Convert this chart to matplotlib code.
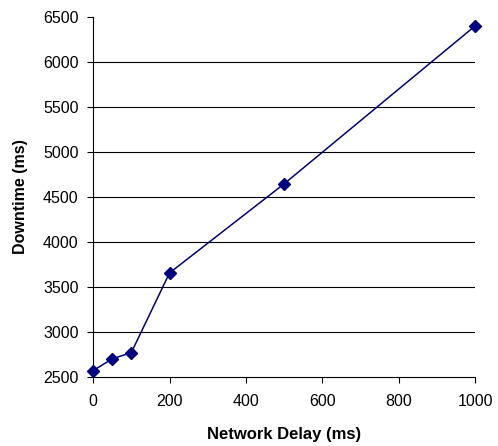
import matplotlib
matplotlib.use("Agg")
import matplotlib.pyplot as plt

# Network delay vs downtime
delay = [0, 50, 100, 200, 500, 1000]
downtime = [2570, 2700, 2770, 3655, 4645, 6400]
yticks = [2500, 3000, 3500, 4000, 4500, 5000, 5500, 6000, 6500]
xticks = [0, 200, 400, 600, 800, 1000]

plt.rcParams['font.family'] = ['Liberation Sans', 'DejaVu Sans']

fig = plt.figure(figsize=(4.98, 4.46), dpi=100)
ax = fig.add_axes([0.187, 0.155, 0.767, 0.807])

# gridlines (none on the top edge)
for y in yticks[1:-1]:
	ax.axhline(y, color='black', linewidth=0.8, zorder=1)

ax.plot(delay, downtime, color='#000080', linewidth=1.1, marker='D',
		markersize=6, markerfacecolor='#000080', markeredgecolor='#000080',
		zorder=3, clip_on=False)

ax.set_xlim(0, 1000)
ax.set_ylim(2500, 6500)
ax.set_xticks(xticks)
ax.set_yticks(yticks)
ax.tick_params(labelsize=11.5, direction='out', length=4.5, width=0.8, colors='black')
ax.tick_params(axis='x', pad=8)
ax.tick_params(axis='y', pad=6)

for side in ['top', 'right']:
	ax.spines[side].set_visible(False)
for side in ['left', 'bottom']:
	ax.spines[side].set_linewidth(0.8)

ax.set_xlabel('Network Delay (ms)', fontsize=12, fontweight='bold', labelpad=13)
ax.set_ylabel('Downtime (ms)', fontsize=11.5, fontweight='bold', labelpad=11)

fig.savefig('out.png', dpi=100)
